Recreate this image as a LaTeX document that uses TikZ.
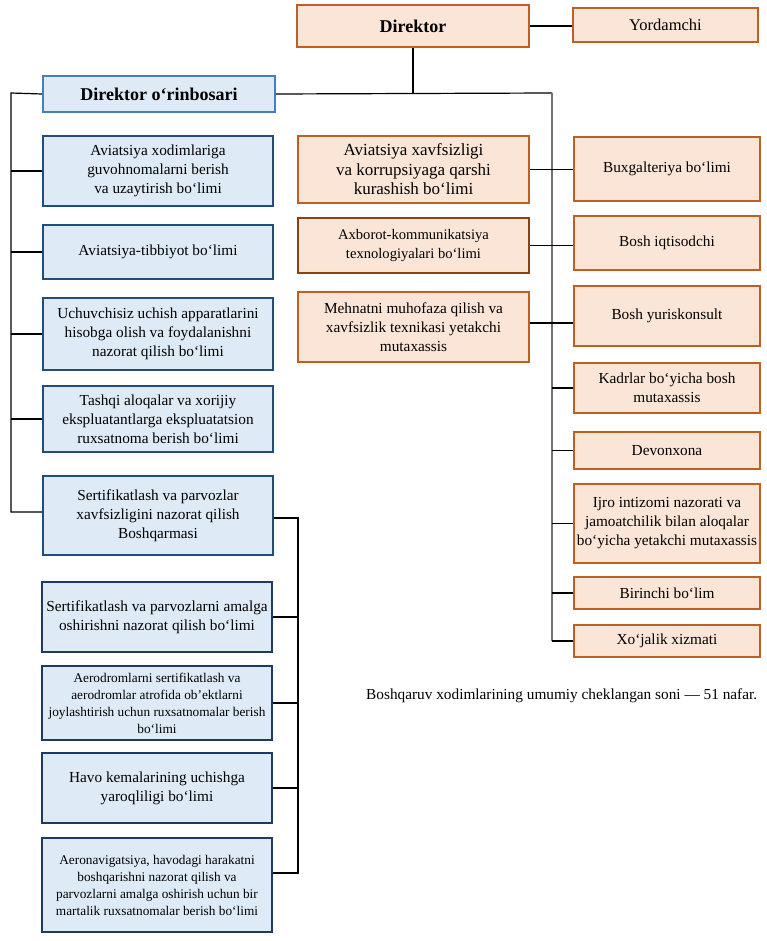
\documentclass[tikz,border=0pt]{standalone}
\usepackage{fontspec}
\setmainfont{Liberation Serif}
\definecolor{ofill}{HTML}{FBE5D6}
\definecolor{oborder}{HTML}{BE5F24}
\definecolor{odark}{HTML}{8B420F}
\definecolor{bfill}{HTML}{DEEBF7}
\definecolor{bborder}{HTML}{1F4E79}
\definecolor{bnavy}{HTML}{203864}
\definecolor{bsteel}{HTML}{4A7EBB}
\begin{document}
\begin{tikzpicture}[x=1pt,y=-1pt,
  box/.style={rectangle, draw, line width=2pt, align=center, inner sep=2pt,
    font=\fontsize{15.3}{19}\selectfont},
  sz/.style 2 args={minimum width=#1pt, minimum height=#2pt},
  obox/.style={box, draw=oborder, fill=ofill},
  bbox/.style={box, draw=bborder, fill=bfill},
  small/.style={font=\fontsize{13.3}{17}\selectfont},
  conn/.style={line width=1.2pt, black},
  trunk/.style={line width=1.2pt, black!55}]
\useasboundingbox (0,0) rectangle (767,941);

% top
\node[obox, sz={232}{42}, font=\fontsize{18}{20}\selectfont\bfseries] (dir) at (413,26) {Direktor};
\node[obox, sz={185}{34}, font=\fontsize{16.5}{19}\selectfont] (yord) at (665.5,25) {Yordamchi};
\node[bbox, draw=bsteel, sz={232}{36}, font=\fontsize{18}{20}\selectfont\bfseries] (dep) at (159,94) {Direktor o‘rinbosari};

% left column
\node[bbox, sz={230}{70}] (L1) at (158,171) {Aviatsiya xodimlariga\\guvohnomalarni berish\\va uzaytirish bo‘limi};
\node[bbox, sz={230}{54}] (L2) at (158,252) {Aviatsiya-tibbiyot bo‘limi};
\node[bbox, sz={230}{72}] (L3) at (158,334) {Uchuvchisiz uchish apparatlarini\\hisobga olish va foydalanishni\\nazorat qilish bo‘limi};
\node[bbox, sz={230}{66}] (L4) at (158,419) {Tashqi aloqalar va xorijiy\\ekspluatantlarga ekspluatatsion\\ruxsatnoma berish bo‘limi};
\node[bbox, sz={230}{79}] (L5) at (158,515.5) {Sertifikatlash va parvozlar\\xavfsizligini nazorat qilish\\Boshqarmasi};

% sub column
\node[bbox, draw=bnavy, sz={230}{70}] (S1) at (157,617) {Sertifikatlash va parvozlarni amalga\\oshirishni nazorat qilish bo‘limi};
\node[bbox, draw=bnavy, sz={230}{74}, small] (S2) at (157,703) {Aerodromlarni sertifikatlash va\\aerodromlar atrofida ob’ektlarni\\joylashtirish uchun ruxsatnomalar berish\\bo‘limi};
\node[bbox, draw=bnavy, sz={230}{70}] (S3) at (157,788) {Havo kemalarining uchishga\\yaroqliligi bo‘limi};
\node[bbox, draw=bnavy, sz={230}{94}, small] (S4) at (157,885) {Aeronavigatsiya, havodagi harakatni\\boshqarishni nazorat qilish va\\parvozlarni amalga oshirish uchun bir\\martalik ruxsatnomalar berish bo‘limi};

% centre column
\node[obox, sz={231}{67}, font=\fontsize{17}{19.5}\selectfont] (C1) at (413.5,169.5) {Aviatsiya xavfsizligi\\va korrupsiyaga qarshi\\kurashish bo‘limi};
\node[obox, draw=odark, sz={231}{55}, font=\fontsize{14.6}{19}\selectfont] (C2) at (413.5,245.5) {Axborot-kommunikatsiya\\texnologiyalari bo‘limi};
\node[obox, sz={231}{70}] (C3) at (413.5,327) {Mehnatni muhofaza qilish va\\xavfsizlik texnikasi yetakchi\\mutaxassis};

% right column
\node[obox, sz={186}{64}] (R1) at (667,169) {Buxgalteriya bo‘limi};
\node[obox, sz={186}{54}] (R2) at (667,243) {Bosh iqtisodchi};
\node[obox, sz={186}{60}] (R3) at (667,316) {Bosh yuriskonsult};
\node[obox, sz={186}{50}] (R4) at (667,388) {Kadrlar bo‘yicha bosh\\mutaxassis};
\node[obox, sz={186}{37}] (R5) at (667,450.5) {Devonxona};
\node[obox, sz={186}{79}] (R6) at (667,523.5) {Ijro intizomi nazorati va\\jamoatchilik bilan aloqalar\\bo‘yicha yetakchi mutaxassis};
\node[obox, sz={186}{32}] (R7) at (667,593) {Birinchi bo‘lim};
\node[obox, sz={186}{32}] (R8) at (667,641) {Xo‘jalik xizmati};

% note
\node[font=\fontsize{15.3}{19}\selectfont, anchor=west, inner sep=0pt] (note) at (366,696) {Boshqaruv xodimlarining umumiy cheklangan soni — 51 nafar.};

% trunk coordinates
\coordinate (rt) at (552,93);
\coordinate (lt) at (11,93);
\coordinate (st) at (298,518);
\coordinate (L5w) at ([yshift=3.5pt]L5.west);
\coordinate (L5e) at ([yshift=-2.5pt]L5.east);
\coordinate (S4e) at ([yshift=12pt]S4.east);
\coordinate (C3e) at ([yshift=4pt]C3.east);

% top connections
\draw[conn] (dir.east) -- (dir.east -| yord.west);
\draw[conn] (dir.south) -- (dir.south |- rt);
\draw[conn] (dep.east) -- (rt);
\draw[trunk] (rt) -- (rt |- R8.west);

% right connections
\foreach \r in {R4,R5,R6,R7,R8}
  \draw[conn] (rt |- \r.west) -- (\r.west);
\draw[conn] (C1.east) -- (C1.east -| R1.west);
\draw[conn] (C2.east) -- (C2.east -| R2.west);
\draw[conn] (C3e) -- (C3e -| R3.west);

% left connections
\draw[conn] (dep.west) -- (lt) -- (lt |- L5w) -- (L5w);
\foreach \l in {L1,L2,L3,L4}
  \draw[conn] (lt |- \l.west) -- (\l.west);

% sub connections
\draw[conn] (L5e) -- (st) -- (st |- S4e) -- (S4e);
\foreach \s in {S1,S2,S3}
  \draw[conn] (st |- \s.east) -- (\s.east);
\end{tikzpicture}
\end{document}
